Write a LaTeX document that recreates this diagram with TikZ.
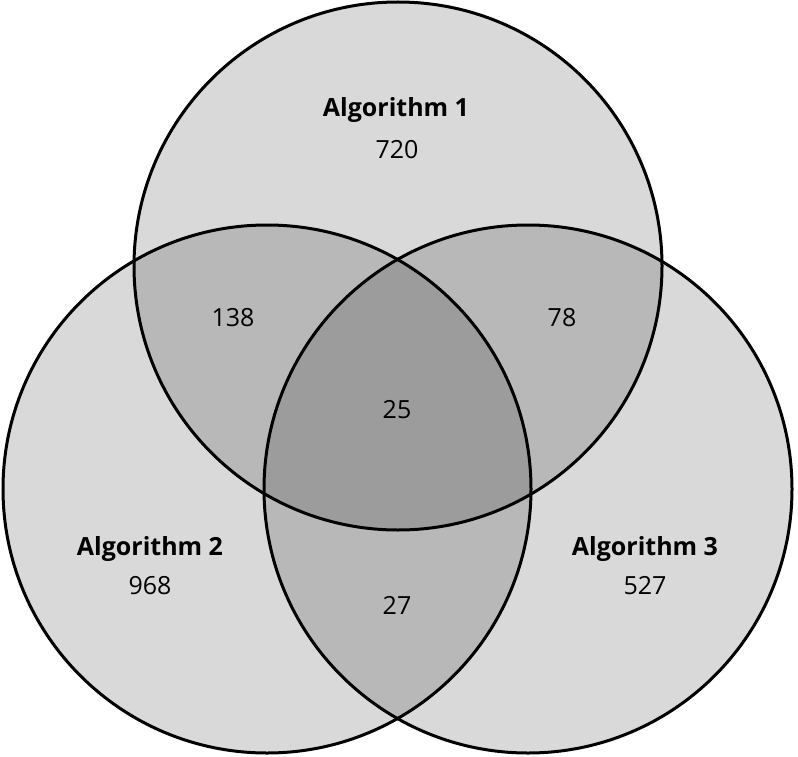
\documentclass[tikz,border=0pt]{standalone}
\usepackage{fontspec}
\setmainfont{Open Sans}
\begin{document}
\begin{tikzpicture}[x=1pt,y=-1pt,
  setcircle/.style={fill=black,fill opacity=0.15,draw=none},
  ring/.style={draw=black,line width=3pt},
  title/.style={anchor=base,font=\fontsize{25}{30}\selectfont\bfseries,inner sep=0pt},
  num/.style={anchor=base,font=\fontsize{25}{30}\selectfont,inner sep=0pt}]
\useasboundingbox (0,0) rectangle (798,757);
\fill[white] (0,0) rectangle (798,757);
\coordinate (c1) at (398,266);
\coordinate (c2) at (267,489);
\coordinate (c3) at (528,489);
\fill[setcircle] (c1) circle (264);
\fill[setcircle] (c2) circle (264);
\fill[setcircle] (c3) circle (264);
\draw[ring] (c1) circle (264);
\draw[ring] (c2) circle (264);
\draw[ring] (c3) circle (264);
\node[title] (t1) at (396,117) {Algorithm 1};
\node[num] (n1) at (397,158) {720};
\node[title] (t2) at (150,555) {Algorithm 2};
\node[num] (n2) at (150,594) {968};
\node[title] (t3) at (645,555) {Algorithm 3};
\node[num] (n3) at (645,594) {527};
\node[num] (n12) at (233,326) {138};
\node[num] (n13) at (562,326) {78};
\node[num] (n123) at (397,418) {25};
\node[num] (n23) at (397,614) {27};
\end{tikzpicture}
\end{document}
